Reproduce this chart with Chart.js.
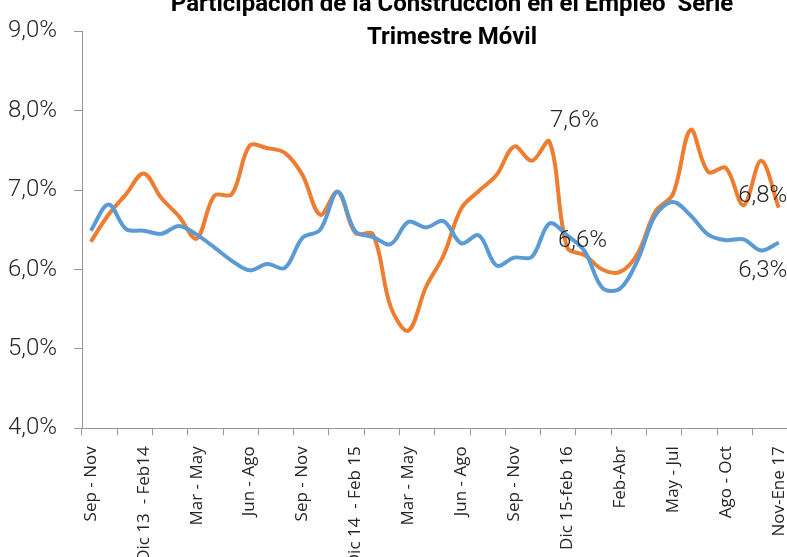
<!DOCTYPE html>
<html lang="es">
<head>
<meta charset="utf-8">
<title>Participación de la Construcción en el Empleo</title>
<script src="https://cdn.jsdelivr.net/npm/chart.js@4.4.1/dist/chart.umd.min.js"></script>
<style>
    html, body { margin: 0; padding: 0; overflow: hidden; background: #fff; }
    #chart-box { position: absolute; left: 0; top: 0; width: 904px; height: 557px; }
</style>
</head>
<body>
<div id="chart-box"><canvas id="empleo-chart"></canvas></div>
<script>
// trimestres moviles, se rotula uno de cada tres
const periodos = [
    "Sep - Nov", "Oct - Dic", "Nov - Ene", "Dic 13  - Feb14", "Ene - Mar", "Feb - Abr",
    "Mar - May", "Abr - Jun", "May - Jul", "Jun - Ago", "Jul - Sep", "Ago - Oct",
    "Sep - Nov", "Oct - Dic", "Nov - Ene", "Dic 14  - Feb 15", "Ene - Mar", "Feb - Abr",
    "Mar - May", "Abr - Jun", "May - Jul", "Jun - Ago", "Jul - Sep", "Ago - Oct",
    "Sep - Nov", "Oct - Dic", "Nov - Ene", "Dic 15-feb 16", "Ene - Mar", "Ene - Mar",
    "Feb-Abr", "Mar - May", "Abr - Jun", "May - Jul", "Jun - Ago", "Jul - Sep",
    "Ago - Oct", "Sep - Nov", "Oct - Dic", "Nov-Ene 17"
];

const serieAzul = [
    6.49, 6.82, 6.51, 6.49, 6.45, 6.55, 6.44, 6.28, 6.11, 5.99,
    6.07, 6.02, 6.40, 6.50, 6.98, 6.48, 6.41, 6.32, 6.60, 6.53,
    6.61, 6.33, 6.43, 6.05, 6.15, 6.16, 6.58, 6.43, 6.23, 5.77,
    5.76, 6.12, 6.68, 6.85, 6.68, 6.44, 6.37, 6.38, 6.24, 6.34
];

const serieNaranja = [
    6.35, 6.69, 6.95, 7.21, 6.90, 6.67, 6.39, 6.93, 6.95, 7.56,
    7.53, 7.47, 7.19, 6.69, 6.98, 6.46, 6.44, 5.53, 5.23, 5.78,
    6.18, 6.77, 6.99, 7.19, 7.55, 7.37, 7.61, 6.28, 6.18, 6.00,
    5.97, 6.20, 6.73, 6.95, 7.76, 7.23, 7.28, 6.81, 7.37, 6.78
];

const ticksY = [4, 5, 6, 7, 8, 9];

function pct(v) {
    return v.toFixed(1).replace(".", ",") + "%";
}

// rotulos de valor sobre algunos puntos
const etiquetasPlugin = {
    id: "etiquetas",
    afterDatasetsDraw(chart, args, opts) {
        const ctx = chart.ctx;
        ctx.save();
        ctx.font = "300 24px Roboto";
        ctx.fillStyle = "#262626";
        ctx.textAlign = "center";
        ctx.textBaseline = "middle";
        for (const e of opts.puntos) {
            const p = chart.getDatasetMeta(e.serie).data[e.indice];
            const v = chart.data.datasets[e.serie].data[e.indice];
            ctx.fillText(pct(v), p.x + e.dx, p.y + e.dy);
        }
        ctx.restore();
    }
};

const gris = "#969696";

new Chart(document.getElementById("empleo-chart"), {
    type: "line",
    data: {
        labels: periodos,
        datasets: [{
            label: "Serie 1",
            data: serieAzul,
            borderColor: "#5B9BD5",
            borderWidth: 4,
            pointRadius: 0,
            tension: 0.35,
            borderJoinStyle: "round"
        }, {
            label: "Serie 2",
            data: serieNaranja,
            borderColor: "#ED7D31",
            borderWidth: 4,
            pointRadius: 0,
            tension: 0.35,
            borderJoinStyle: "round"
        }]
    },
    options: {
        responsive: true,
        maintainAspectRatio: false,
        animation: false,
        layout: { padding: 0 },
        plugins: {
            legend: { display: false },
            tooltip: { enabled: false },
            title: {
                display: true,
                text: ["Participación de la Construcción en el Empleo  Serie", "Trimestre Móvil"],
                color: "#000",
                font: { family: "Roboto", size: 24, weight: "bold", lineHeight: 1.375 },
                padding: { top: -21, bottom: -23 }
            },
            etiquetas: {
                puntos: [
                    { serie: 1, indice: 26, dx: 25, dy: -21 },
                    { serie: 0, indice: 26, dx: 33, dy: 18 },
                    { serie: 1, indice: 39, dx: -16, dy: -12 },
                    { serie: 0, indice: 39, dx: -16, dy: 28 }
                ]
            }
        },
        scales: {
            x: {
                offset: true,
                grid: {
                    offset: true,
                    drawOnChartArea: false,
                    drawTicks: true,
                    tickLength: 7,
                    color: (c) => c.index % 2 === 0 ? gris : "rgba(0,0,0,0)"
                },
                border: { display: true, color: gris, width: 1 },
                ticks: {
                    autoSkip: false,
                    maxRotation: 90,
                    minRotation: 90,
                    padding: 11,
                    color: "#262626",
                    font: { family: "Open Sans", size: 17 },
                    callback: (v, i) => i % 3 === 0 ? periodos[i] : ""
                },
                afterFit: (s) => { s.height = 128.7; }
            },
            y: {
                min: 4,
                max: 9,
                afterBuildTicks: (s) => { s.ticks = ticksY.map(v => ({ value: v })); },
                grid: {
                    drawOnChartArea: false,
                    drawTicks: true,
                    tickLength: 8,
                    color: gris
                },
                border: { display: true, color: gris, width: 1 },
                ticks: {
                    padding: 17,
                    color: "#262626",
                    font: { family: "Roboto", size: 24, weight: 300 },
                    callback: (v) => pct(v)
                },
                afterFit: (s) => { s.width = 82; }
            },
            margen: {
                type: "linear",
                position: "right",
                display: true,
                grid: { display: false },
                border: { display: false },
                ticks: { display: false },
                afterFit: (s) => { s.width = 116.4; }
            }
        }
    },
    plugins: [etiquetasPlugin]
});
</script>
</body>
</html>
